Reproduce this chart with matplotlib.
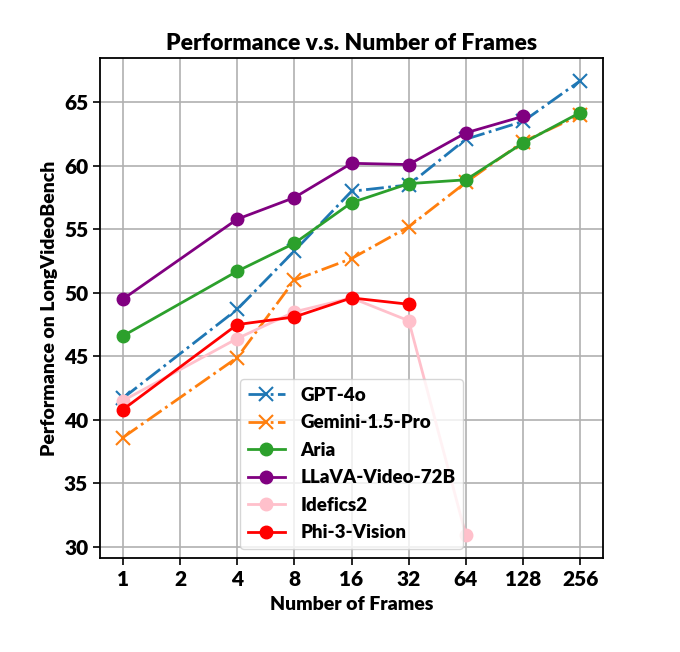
import matplotlib
matplotlib.use("Agg")
import matplotlib.pyplot as plt

plt.rcParams['font.family'] = ['Lato', 'DejaVu Sans']
plt.rcParams['font.weight'] = 'heavy'

# data
frames_ticks = [1, 2, 4, 8, 16, 32, 64, 128, 256]
frames = [1, 4, 8, 16, 32, 64, 128, 256]

gpt4o = [41.7, 48.7, 53.3, 58.0, 58.5, 62.1, 63.5, 66.7]
gemini = [38.6, 44.9, 51.0, 52.7, 55.2, 58.7, 61.9, 64.0]
aria = [46.6, 51.7, 53.9, 57.1, 58.6, 58.9, 61.8, 64.2]
llava = [49.5, 55.8, 57.5, 60.2, 60.1, 62.6, 63.9]
idefics2 = [41.5, 46.4, 48.5, 49.6, 47.8, 30.9]
phi3 = [40.8, 47.5, 48.1, 49.6, 49.1]

fig = plt.figure(figsize=(6.8, 6.52), dpi=100, facecolor='#FFFFFF')
ax = fig.add_axes([0.147, 0.144, 0.740, 0.767])

ax.plot(frames, gpt4o, color='#1f77b4', linestyle='-.', marker='x',
        markersize=10, markeredgewidth=1.5, linewidth=2, label='GPT-4o')
ax.plot(frames, gemini, color='#ff7f0e', linestyle='-.', marker='x',
        markersize=10, markeredgewidth=1.5, linewidth=2, label='Gemini-1.5-Pro')
ax.plot(frames, aria, color='#2ca02c', marker='o', markersize=9,
        linewidth=2, label='Aria')
ax.plot(frames[:len(llava)], llava, color='purple', marker='o', markersize=9,
        linewidth=2, label='LLaVA-Video-72B')
ax.plot(frames[:len(idefics2)], idefics2, color='pink', marker='o', markersize=9,
        linewidth=2, label='Idefics2')
ax.plot(frames[:len(phi3)], phi3, color='red', marker='o', markersize=9,
        linewidth=2, label='Phi-3-Vision')

ax.set_xscale('log', base=2)
ax.set_xticks(frames_ticks)
ax.set_xticklabels([str(f) for f in frames_ticks])
ax.minorticks_off()
ax.set_yticks([30, 35, 40, 45, 50, 55, 60, 65])
ax.tick_params(axis='both', labelsize=15, width=1.2, length=5)
for lab in ax.get_xticklabels() + ax.get_yticklabels():
    lab.set_fontweight('heavy')

ax.grid(True, color='#b0b0b0', linewidth=1.2)
ax.set_axisbelow(True)
for s in ax.spines.values():
    s.set_linewidth(1.3)

ax.set_title('Performance v.s. Number of Frames', fontsize=16.5, fontweight='heavy')
ax.set_xlabel('Number of Frames', fontsize=14, fontweight='heavy', labelpad=5)
ax.set_ylabel('Performance on LongVideoBench', fontsize=14, fontweight='heavy')

ax.legend(loc='lower center', prop={'size': 13.5, 'weight': 'heavy'},
          handlelength=2.0, labelspacing=0.56)

fig.savefig('out.png', dpi=100)
